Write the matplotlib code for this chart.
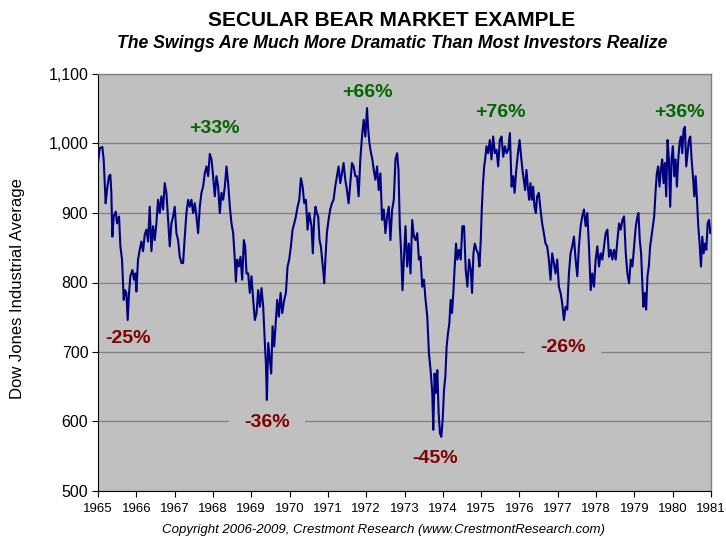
import matplotlib
matplotlib.use("Agg")
import matplotlib.pyplot as plt
import numpy as np

# ---- data (decimal year on the chart's axis, Dow Jones Industrial Average) ----
years_a = [1965.000, 1965.044, 1965.113, 1965.148, 1965.200, 1965.235, 1965.287, 1965.322, 1965.348,
           1965.375, 1965.409, 1965.462, 1965.497, 1965.549, 1965.584, 1965.627, 1965.671, 1965.706,
           1965.740, 1965.775, 1965.810, 1965.845, 1965.897, 1965.941, 1965.976, 1966.002, 1966.045,
           1966.089, 1966.132, 1966.176, 1966.220, 1966.263, 1966.307, 1966.350, 1966.394, 1966.437,
           1966.481, 1966.524, 1966.568, 1966.611, 1966.655, 1966.699, 1966.742, 1966.786, 1966.829,
           1966.873, 1966.916, 1966.960, 1967.003, 1967.047, 1967.091, 1967.134, 1967.178, 1967.221,
           1967.265, 1967.308, 1967.352, 1967.395, 1967.439, 1967.483, 1967.526, 1967.570, 1967.613,
           1967.657, 1967.700, 1967.744, 1967.787, 1967.831, 1967.875, 1967.918, 1967.962, 1968.005,
           1968.049, 1968.092, 1968.136, 1968.179, 1968.223, 1968.267, 1968.310, 1968.354, 1968.397,
           1968.441, 1968.484, 1968.528, 1968.571, 1968.598, 1968.632, 1968.676, 1968.720, 1968.763,
           1968.807, 1968.841, 1968.876, 1968.920, 1968.963, 1969.007, 1969.051, 1969.094, 1969.138,
           1969.181, 1969.225, 1969.268, 1969.312, 1969.355, 1969.382, 1969.408, 1969.443, 1969.486,
           1969.521, 1969.556, 1969.599, 1969.643, 1969.678, 1969.721, 1969.765, 1969.808, 1969.861,
           1969.904, 1969.948, 1969.991, 1970.035, 1970.078, 1970.122, 1970.166, 1970.209, 1970.253,
           1970.296, 1970.340, 1970.383, 1970.427, 1970.470, 1970.514]
dow_a = [972, 993, 995, 977, 914, 933, 953, 955, 929,
         866, 895, 902, 885, 895, 852, 833, 775, 789,
         785, 746, 785, 809, 818, 804, 813, 787, 833,
         847, 859, 845, 869, 876, 859, 909, 845, 881,
         861, 885, 919, 900, 924, 905, 943, 929, 890,
         852, 885, 895, 909, 871, 861, 837, 828, 828,
         866, 900, 919, 909, 919, 900, 914, 895, 871,
         909, 929, 938, 957, 967, 953, 985, 977, 953,
         924, 953, 938, 900, 929, 919, 938, 967, 943,
         909, 885, 871, 833, 801, 833, 823, 837, 804,
         861, 852, 813, 813, 785, 809, 775, 746, 756,
         789, 765, 792, 765, 713, 684, 631, 713, 689,
         669, 737, 708, 746, 775, 751, 785, 756, 775,
         785, 823, 833, 852, 876, 885, 895, 909, 919,
         950, 938, 914, 919, 876, 900]

years_b = [1970.572, 1970.607, 1970.642, 1970.677, 1970.712, 1970.747, 1970.782, 1970.817, 1970.852,
           1970.886, 1970.904, 1970.939, 1970.974, 1971.017, 1971.061, 1971.105, 1971.148, 1971.192,
           1971.236, 1971.279, 1971.323, 1971.367, 1971.410, 1971.454, 1971.498, 1971.541, 1971.585,
           1971.629, 1971.672, 1971.716, 1971.760, 1971.803, 1971.847, 1971.891, 1971.934, 1971.978,
           1972.022, 1972.048, 1972.083, 1972.127, 1972.162, 1972.197, 1972.240, 1972.284, 1972.328,
           1972.371, 1972.415, 1972.459, 1972.502, 1972.546, 1972.590, 1972.633, 1972.677, 1972.721,
           1972.764, 1972.808, 1972.843, 1972.878, 1972.913, 1972.948, 1972.983, 1973.026, 1973.070,
           1973.114, 1973.157, 1973.201, 1973.245, 1973.288, 1973.332, 1973.376, 1973.419, 1973.463,
           1973.507, 1973.550, 1973.594, 1973.638, 1973.681, 1973.725, 1973.751, 1973.786, 1973.821,
           1973.856, 1973.891, 1973.926, 1973.961, 1973.996, 1974.031, 1974.066, 1974.100, 1974.135,
           1974.170, 1974.205, 1974.240, 1974.275, 1974.310, 1974.345, 1974.380, 1974.424, 1974.467,
           1974.511, 1974.555, 1974.598, 1974.642, 1974.686, 1974.729, 1974.764, 1974.799, 1974.834,
           1974.878, 1974.921, 1974.956, 1974.991, 1975.017, 1975.044, 1975.079, 1975.105, 1975.140,
           1975.183, 1975.227, 1975.271, 1975.314, 1975.358, 1975.402, 1975.445, 1975.489, 1975.533,
           1975.576, 1975.620, 1975.664, 1975.707, 1975.751, 1975.795, 1975.838, 1975.873, 1975.917,
           1975.961, 1976.004]
dow_b = [881, 842, 890, 909, 900, 895, 861, 852, 833,
         813, 799, 837, 871, 890, 905, 914, 919, 938,
         953, 967, 943, 957, 972, 948, 933, 914, 943,
         972, 967, 953, 953, 924, 977, 1010, 1034, 1010,
         1051, 1024, 1001, 986, 977, 962, 948, 967, 933,
         957, 890, 905, 871, 895, 909, 861, 905, 919,
         977, 986, 962, 881, 842, 789, 833, 881, 823,
         856, 813, 890, 866, 861, 871, 833, 837, 794,
         804, 775, 751, 698, 674, 641, 588, 669, 641,
         674, 612, 583, 578, 602, 645, 665, 708, 727,
         741, 775, 756, 785, 823, 856, 833, 847, 833,
         881, 881, 818, 794, 833, 818, 785, 842, 856,
         847, 842, 823, 861, 905, 938, 967, 977, 996,
         986, 1005, 977, 1010, 986, 991, 967, 1005, 1010,
         981, 996, 986, 991, 1015, 938, 953, 929, 962,
         986, 1005]

years_c = [1976.044, 1976.079, 1976.113, 1976.148, 1976.183, 1976.218, 1976.253, 1976.288, 1976.323,
           1976.358, 1976.393, 1976.428, 1976.462, 1976.506, 1976.550, 1976.593, 1976.637, 1976.681,
           1976.724, 1976.768, 1976.812, 1976.855, 1976.899, 1976.942, 1976.986, 1977.030, 1977.073,
           1977.117, 1977.161, 1977.204, 1977.248, 1977.291, 1977.335, 1977.379, 1977.422, 1977.466,
           1977.510, 1977.553, 1977.597, 1977.640, 1977.684, 1977.728, 1977.771, 1977.815, 1977.859,
           1977.902, 1977.946, 1977.990, 1978.033, 1978.077, 1978.120, 1978.164, 1978.208, 1978.251,
           1978.295, 1978.339, 1978.382, 1978.426, 1978.469, 1978.513, 1978.557, 1978.600, 1978.644,
           1978.688, 1978.731, 1978.775, 1978.818, 1978.862, 1978.906, 1978.949, 1978.993, 1979.037,
           1979.080, 1979.106, 1979.141, 1979.176, 1979.211, 1979.237, 1979.272, 1979.307, 1979.342,
           1979.377, 1979.412, 1979.447, 1979.482, 1979.517, 1979.551, 1979.586, 1979.621, 1979.656,
           1979.691, 1979.726, 1979.761, 1979.796, 1979.831, 1979.866, 1979.901, 1979.935, 1979.970,
           1980.005, 1980.040, 1980.075, 1980.110, 1980.145, 1980.180, 1980.215, 1980.250, 1980.284,
           1980.319, 1980.354, 1980.389, 1980.424, 1980.459, 1980.494, 1980.529, 1980.564, 1980.599,
           1980.634, 1980.668, 1980.703, 1980.738, 1980.773, 1980.808, 1980.843, 1980.878, 1980.913,
           1980.948, 1980.983, 1981.000]
dow_c = [981, 962, 948, 933, 962, 938, 919, 943, 919,
         938, 909, 900, 924, 929, 905, 885, 871, 856,
         852, 833, 804, 842, 828, 813, 833, 794, 785,
         770, 746, 765, 761, 813, 842, 852, 866, 833,
         809, 852, 881, 895, 905, 881, 900, 852, 789,
         813, 794, 833, 852, 823, 842, 833, 852, 871,
         876, 837, 847, 833, 847, 833, 861, 885, 876,
         890, 895, 842, 813, 799, 833, 823, 852, 881,
         895, 900, 861, 842, 794, 765, 785, 761, 809,
         823, 852, 866, 881, 895, 929, 957, 967, 938,
         962, 977, 943, 972, 924, 1005, 977, 909, 977,
         996, 953, 977, 938, 977, 1001, 1010, 986, 1020,
         1024, 967, 986, 1005, 1010, 977, 953, 924, 953,
         919, 881, 856, 823, 866, 842, 856, 847, 885,
         890, 871, 876]

x_tick_years = list(range(1965, 1982))
y_ticks = [500, 600, 700, 800, 900, 1000, 1100]

swing_labels = ["-25%", "+33%", "-36%", "+66%", "-45%", "+76%", "-26%", "+36%"]
swing_x = [1965.78, 1968.05, 1969.41, 1972.02, 1973.80, 1975.50, 1977.14, 1980.17]
swing_y = [720, 1022, 599, 1074, 547, 1044, 707, 1045]
swing_boxed = [False, False, True, False, False, False, True, False]

title = "SECULAR BEAR MARKET EXAMPLE"
subtitle = "The Swings Are Much More Dramatic Than Most Investors Realize"
ylabel = "Dow Jones Industrial Average"
credit = "Copyright 2006-2009, Crestmont Research (www.CrestmontResearch.com)"

# ---- style ----
plt.rcParams['font.family'] = ['Liberation Sans', 'DejaVu Sans']
BG = '#C0C0C0'
LINE = '#000080'
GREEN = '#006600'
RED = '#800000'

fig = plt.figure(figsize=(7.26, 5.49), dpi=100)
ax = fig.add_axes([98/726, 1 - 491/549, (711-98)/726, (491-74)/549])
ax.set_facecolor(BG)

years = years_a + years_b + years_c
dow = dow_a + dow_b + dow_c
ax.plot(years, dow, color=LINE, lw=1.5, zorder=3, solid_joinstyle='round')

ax.set_xlim(1965, 1981)
ax.set_ylim(500, 1100)
ax.set_yticks(y_ticks)
ax.set_yticklabels([f"{v:,}" for v in y_ticks], fontsize=11.5)
ax.set_xticks(x_tick_years)
ax.set_xticklabels([str(y) for y in x_tick_years], fontsize=9.5)
ax.tick_params(axis='both', direction='out', length=4, width=0.8, color='#000000', pad=3)
ax.tick_params(axis='x', pad=5)

ax.set_axisbelow(True)
ax.grid(axis='y', color='#808080', lw=0.9, zorder=0.5)
for s in ['top', 'right']:
    ax.spines[s].set_color('#808080')
    ax.spines[s].set_linewidth(1.0)
for s in ['left', 'bottom']:
    ax.spines[s].set_color('#000000')
    ax.spines[s].set_linewidth(0.8)

for lab, x, y, boxed in zip(swing_labels, swing_x, swing_y, swing_boxed):
    col = GREEN if lab.startswith('+') else RED
    kw = {}
    if boxed:
        kw['bbox'] = dict(boxstyle='square,pad=0.8', facecolor=BG, edgecolor='none')
    ax.text(x, y, lab, color=col, fontsize=14, fontweight='bold', ha='center', va='center',
            zorder=2, **kw)

fig.text(392/726, 1 - 20/549, title, fontsize=15, fontweight='bold', ha='center', va='center')
fig.text(392/726, 1 - 44/549, subtitle, fontsize=12.7, fontweight='bold', fontstyle='italic',
         ha='center', va='center')
fig.text(18/726, 1 - 289/549, ylabel, fontsize=12, rotation=90, ha='center', va='center')
fig.text(383/726, 1 - 530/549, credit, fontsize=9.5, fontstyle='italic', ha='center', va='center')

fig.savefig('out.png', dpi=100, facecolor='white')
